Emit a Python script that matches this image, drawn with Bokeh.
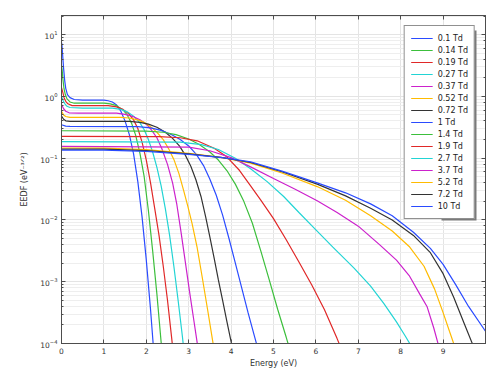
from bokeh.plotting import figure
from bokeh.models import (LinearAxis, LogAxis, FixedTicker, LogTicker, Legend, LegendItem, Range1d,
                          CustomJSTickFormatter, BoxAnnotation)
from bokeh.embed import file_html
from bokeh.resources import INLINE

fields = ["0.1 Td", "0.14 Td", "0.19 Td", "0.27 Td", "0.37 Td", "0.52 Td", "0.72 Td",
          "1 Td", "1.4 Td", "1.9 Td", "2.7 Td", "3.7 Td", "5.2 Td", "7.2 Td", "10 Td"]
colors = ["#2a4bff", "#3cbf3c", "#e02828", "#22d4d4", "#cc22cc", "#ffbb00", "#333333",
          "#2a4bff", "#3cbf3c", "#e02828", "#22d4d4", "#cc22cc", "#ffbb00", "#333333", "#2a4bff"]

# Energy (eV) and EEDF (eV^-3/2), one pair of lists per reduced field
e_01 = [0, 0.01, 0.03, 0.05, 0.075, 0.1, 0.14, 0.2, 0.3, 0.5, 0.8, 1.0, 1.1, 1.2, 1.3, 1.4, 1.5, 1.6, 1.7, 1.8, 1.9, 2.0, 2.1, 2.2]
f_01 = [7.41, 6.92, 4.37, 2.82, 1.82, 1.35, 1.07, 0.955, 0.891, 0.871, 0.871, 0.871, 0.851, 0.813, 0.724, 0.575, 0.398, 0.240, 0.117, 0.0417, 0.0112, 0.00224, 0.000355, 4.47e-5]
e_014 = [0, 0.015, 0.035, 0.06, 0.09, 0.13, 0.2, 0.3, 0.6, 1.0, 1.15, 1.3, 1.45, 1.55, 1.65, 1.75, 1.85, 1.95, 2.05, 2.15, 2.25, 2.35, 2.45]
f_014 = [3.16, 2.69, 1.86, 1.32, 1.07, 0.912, 0.813, 0.776, 0.776, 0.776, 0.759, 0.708, 0.603, 0.501, 0.372, 0.234, 0.120, 0.0501, 0.0141, 0.00316, 0.000631, 0.000105, 1.58e-5]
e_019 = [0, 0.03, 0.06, 0.1, 0.15, 0.25, 0.5, 1.1, 1.3, 1.45, 1.6, 1.7, 1.8, 1.9, 2.0, 2.1, 2.2, 2.3, 2.4, 2.5, 2.6, 2.7]
f_019 = [1.38, 1.17, 0.955, 0.832, 0.759, 0.708, 0.708, 0.708, 0.676, 0.617, 0.513, 0.417, 0.302, 0.182, 0.0933, 0.0398, 0.0151, 0.00562, 0.00178, 0.000501, 0.00012, 2.51e-5]
e_027 = [0, 0.04, 0.08, 0.13, 0.2, 0.5, 1.2, 1.4, 1.55, 1.7, 1.85, 1.95, 2.05, 2.15, 2.25, 2.35, 2.45, 2.55, 2.65, 2.75, 2.85, 2.95]
f_027 = [1.0, 0.851, 0.759, 0.692, 0.661, 0.646, 0.646, 0.617, 0.562, 0.479, 0.372, 0.288, 0.200, 0.126, 0.0708, 0.0355, 0.0151, 0.00562, 0.00178, 0.000501, 0.000132, 3.16e-5]
e_037 = [0, 0.05, 0.1, 0.18, 0.4, 1.3, 1.5, 1.7, 1.85, 2.0, 2.12, 2.25, 2.37, 2.5, 2.62, 2.72, 2.82, 2.92, 3.02, 3.12, 3.22, 3.3]
f_037 = [0.741, 0.631, 0.575, 0.543, 0.537, 0.537, 0.513, 0.468, 0.417, 0.355, 0.288, 0.214, 0.141, 0.0794, 0.0398, 0.0178, 0.00631, 0.00209, 0.000692, 0.00024, 8.32e-5, 3.55e-5]
e_052 = [0, 0.05, 0.1, 0.2, 1.4, 1.6, 1.8, 1.95, 2.1, 2.25, 2.4, 2.53, 2.65, 2.77, 2.88, 2.98, 3.08, 3.2, 3.32, 3.45, 3.57, 3.66]
f_052 = [0.575, 0.501, 0.473, 0.457, 0.457, 0.447, 0.417, 0.380, 0.324, 0.263, 0.200, 0.141, 0.0955, 0.0562, 0.0302, 0.0166, 0.00871, 0.00355, 0.00117, 0.000339, 0.000105, 4.47e-5]
e_072 = [0, 0.05, 0.1, 0.2, 1.6, 1.85, 2.05, 2.25, 2.45, 2.62, 2.78, 2.92, 3.05, 3.17, 3.29, 3.4, 3.5, 3.6, 3.7, 3.8, 3.9, 4.0, 4.1]
f_072 = [0.479, 0.427, 0.403, 0.394, 0.394, 0.380, 0.355, 0.316, 0.263, 0.209, 0.158, 0.112, 0.0741, 0.0447, 0.0240, 0.0112, 0.00525, 0.0024, 0.00107, 0.000501, 0.000229, 0.000107, 5.01e-5]
e_1 = [0, 0.1, 0.2, 1.8, 2.1, 2.35, 2.6, 2.8, 3.0, 3.18, 3.35, 3.5, 3.65, 3.8, 3.95, 4.1, 4.25, 4.4, 4.55, 4.7]
f_1 = [0.347, 0.331, 0.327, 0.324, 0.309, 0.282, 0.240, 0.200, 0.158, 0.115, 0.0759, 0.0457, 0.0251, 0.0120, 0.00501, 0.0020, 0.000794, 0.000316, 0.000132, 5.5e-5]
e_14 = [0, 2.0, 2.4, 2.7, 3.0, 3.25, 3.5, 3.7, 3.9, 4.1, 4.3, 4.5, 4.7, 4.9, 5.1, 5.3, 5.45]
f_14 = [0.278, 0.275, 0.263, 0.240, 0.204, 0.166, 0.126, 0.0933, 0.0631, 0.0380, 0.0200, 0.00891, 0.00316, 0.00107, 0.000355, 0.000126, 5.62e-5]
e_19 = [0, 2.3, 2.8, 3.2, 3.6, 3.9, 4.2, 4.46, 4.7, 5.0, 5.3, 5.6, 5.9, 6.2, 6.5, 6.65]
f_19 = [0.225, 0.224, 0.214, 0.191, 0.145, 0.105, 0.0631, 0.0355, 0.0209, 0.0105, 0.00479, 0.00209, 0.000891, 0.000355, 0.00012, 6.76e-5]
e_27 = [0, 2.8, 3.3, 3.7, 4.1, 4.46, 4.85, 5.24, 5.6, 6.0, 6.4, 6.9, 7.29, 7.6, 7.9, 8.1, 8.3]
f_27 = [0.185, 0.182, 0.166, 0.138, 0.1, 0.0676, 0.0417, 0.024, 0.0132, 0.00692, 0.00363, 0.00166, 0.000851, 0.000447, 0.000224, 0.000135, 7.94e-5]
e_37 = [0, 3.0, 3.5, 4.0, 4.46, 5.0, 5.5, 6.03, 6.5, 7.0, 7.5, 7.9, 8.2, 8.45, 8.62, 8.78, 8.9]
f_37 = [0.155, 0.151, 0.132, 0.102, 0.0724, 0.0468, 0.0316, 0.0204, 0.0132, 0.00794, 0.00398, 0.00224, 0.00126, 0.000631, 0.000398, 0.000178, 8.91e-5]
e_52 = [0, 1.0, 2.0, 3.0, 3.8, 4.46, 5.2, 6.03, 6.7, 7.29, 7.8, 8.2, 8.55, 8.8, 9.0, 9.15, 9.3]
f_52 = [0.146, 0.145, 0.138, 0.120, 0.102, 0.0832, 0.0575, 0.0347, 0.0209, 0.0117, 0.00661, 0.00372, 0.00178, 0.000759, 0.000316, 0.000158, 7.94e-5]
e_72 = [0, 1.0, 2.0, 3.0, 3.8, 4.46, 5.2, 6.03, 6.7, 7.29, 7.8, 8.3, 8.7, 9.0, 9.25, 9.5, 9.7, 9.8]
f_72 = [0.140, 0.140, 0.133, 0.117, 0.102, 0.0851, 0.0603, 0.0380, 0.0245, 0.0155, 0.01, 0.00562, 0.00295, 0.00135, 0.000562, 0.000209, 9.55e-5, 6.31e-5]
e_10 = [0, 1.0, 2.0, 3.0, 3.8, 4.46, 5.2, 6.03, 6.7, 7.29, 7.8, 8.3, 8.7, 9.0, 9.3, 9.6, 10.0]
f_10 = [0.135, 0.135, 0.129, 0.115, 0.102, 0.0871, 0.0617, 0.0398, 0.0275, 0.0182, 0.0117, 0.00631, 0.00347, 0.00191, 0.000891, 0.000398, 0.000158]

energies = [e_01, e_014, e_019, e_027, e_037, e_052, e_072, e_1, e_14, e_19, e_27, e_37, e_52, e_72, e_10]
eedfs = [f_01, f_014, f_019, f_027, f_037, f_052, f_072, f_1, f_14, f_19, f_27, f_37, f_52, f_72, f_10]

x_ticks = [0, 1, 2, 3, 4, 5, 6, 7, 8, 9]

FONT = "DejaVu Sans"
AXIS_COLOR = "#4d4d4d"

p = figure(width=498, height=378, x_range=Range1d(0, 10), y_range=Range1d(1e-4, 20.4),
           y_axis_type="log", output_backend="svg", toolbar_location=None,
           min_border_left=61, min_border_right=13, min_border_top=15, min_border_bottom=35,
           background_fill_color="white", border_fill_color="white")
p.outline_line_color = AXIS_COLOR

renderers = []
for e, f, c in zip(energies, eedfs, colors):
    r = p.line(e, f, line_color=c, line_width=1.2)
    renderers.append(r)

p.xgrid.ticker = FixedTicker(ticks=x_ticks)
p.xgrid.grid_line_color = "#e4e4e4"
p.ygrid.grid_line_color = "#e4e4e4"
p.ygrid.minor_grid_line_color = "#eeeeee"

def style(ax):
    ax.axis_line_color = AXIS_COLOR
    ax.axis_line_width = 1
    ax.major_tick_line_color = AXIS_COLOR
    ax.minor_tick_line_color = AXIS_COLOR
    ax.major_tick_in = 4
    ax.major_tick_out = 0
    ax.minor_tick_in = 2
    ax.minor_tick_out = 0
    ax.major_label_text_font = FONT
    ax.major_label_text_font_size = "7.5px"
    ax.major_label_text_color = "#333333"
    ax.axis_label_text_font = FONT
    ax.axis_label_text_font_size = "8px"
    ax.axis_label_text_font_style = "normal"
    ax.axis_label_text_color = "#333333"

xa = p.xaxis[0]
xa.ticker = FixedTicker(ticks=x_ticks)
style(xa)
xa.minor_tick_line_color = None
xa.axis_label = "Energy (eV)"
xa.axis_label_standoff = 2
xa.major_label_standoff = 4

ya = p.yaxis[0]
style(ya)
ya.axis_label = "EEDF (eV⁻³ᐟ²)"
ya.axis_label_standoff = 8
ya.major_label_standoff = 4

top = LinearAxis(ticker=FixedTicker(ticks=x_ticks), formatter=CustomJSTickFormatter(code="return ' '"))
style(top)
top.minor_tick_line_color = None
top.major_label_standoff = 0
p.add_layout(top, "above")

right = LogAxis(ticker=LogTicker(), formatter=CustomJSTickFormatter(code="return ' '"))
style(right)
right.major_label_standoff = 0
p.add_layout(right, "right")

# drop shadow behind the legend box (screen units, frame-relative); only its
# right and bottom edges peek out from under the legend
shadow = BoxAnnotation(left=380, right=415, bottom=123, top=313,
                       left_units="screen", right_units="screen",
                       bottom_units="screen", top_units="screen",
                       fill_color="#7a7a7a", fill_alpha=1, line_color=None)
p.add_layout(shadow)

legend = Legend(items=[LegendItem(label=lab, renderers=[r]) for lab, r in zip(fields, renderers)],
                location="top_right")
legend.border_line_color = "#222222"
legend.border_line_width = 1.2
legend.background_fill_color = "white"
legend.background_fill_alpha = 1
legend.label_text_font = FONT
legend.label_text_font_size = "8px"
legend.label_text_color = "#222222"
legend.glyph_width = 22
legend.glyph_height = 12
legend.label_height = 12
legend.spacing = 0
legend.padding = 6
legend.margin = 10
legend.label_standoff = 5
p.add_layout(legend)

open("out.html", "w").write(file_html(p, INLINE))
